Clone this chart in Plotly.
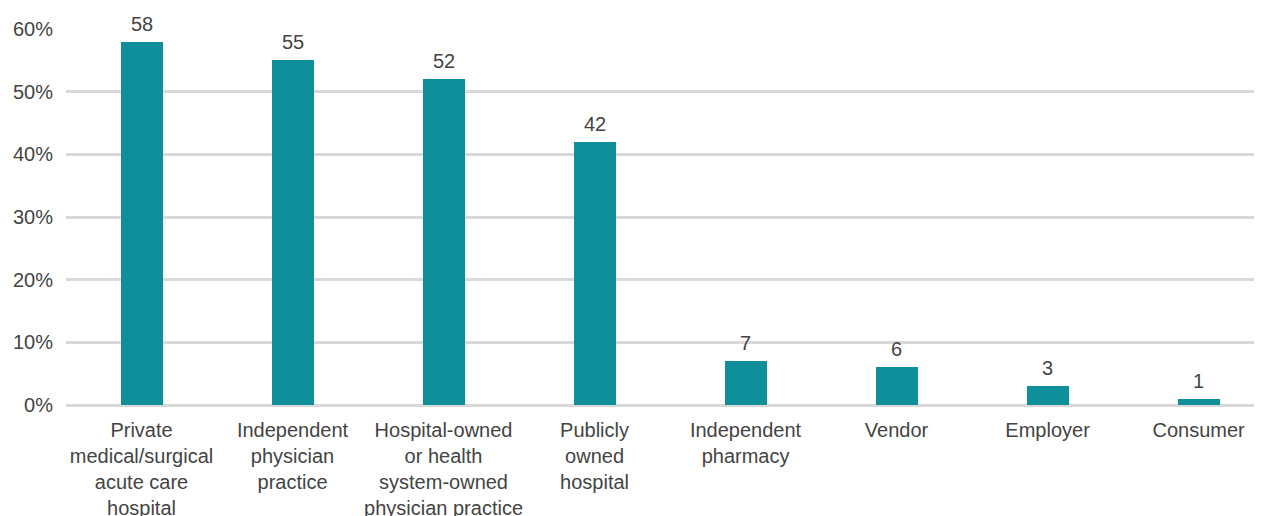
import plotly.graph_objects as go

categories = [
    "Private<br>medical/surgical<br>acute care<br>hospital",
    "Independent<br>physician<br>practice",
    "Hospital-owned<br>or health<br>system-owned<br>physician practice",
    "Publicly<br>owned<br>hospital",
    "Independent<br>pharmacy",
    "Vendor",
    "Employer",
    "Consumer",
]
values = [58, 55, 52, 42, 7, 6, 3, 1]
y_ticks = [0, 10, 20, 30, 40, 50, 60]
y_tick_labels = ["0%", "10%", "20%", "30%", "40%", "50%", "60%"]

font_family = "Liberation Sans, Arial, sans-serif"
text_color = "#444444"

xs = list(range(len(categories)))

fig = go.Figure(
    go.Bar(
        x=xs,
        y=values,
        width=0.278,
        marker=dict(color="#0E8F99", line=dict(width=0)),
        cliponaxis=False,
    )
)

for xi, v in zip(xs, values):
    fig.add_annotation(
        x=xi, y=v, text=str(v), showarrow=False,
        xanchor="center", yanchor="bottom", yshift=5,
        font=dict(family=font_family, size=20, color=text_color),
    )

# page body has an 8px default margin, so the figure is sized to fit the window
fig.update_layout(
    width=1254,
    height=508,
    margin=dict(l=58, r=0, t=21, b=111, autoexpand=False),
    plot_bgcolor="white",
    paper_bgcolor="white",
    showlegend=False,
    bargap=0,
    font=dict(family=font_family, size=20, color=text_color),
)
fig.update_xaxes(
    range=[-0.5, 7.42],
    tickmode="array",
    tickvals=xs,
    ticktext=categories,
    showgrid=False,
    zeroline=False,
    showline=False,
    ticks="",
    automargin=False,
    ticklabelstandoff=11,
    tickfont=dict(family=font_family, size=20, color=text_color),
)
fig.update_yaxes(
    range=[0, 60],
    tickmode="array",
    tickvals=y_ticks,
    ticktext=y_tick_labels,
    showgrid=True,
    gridcolor="#d9d9d9",
    gridwidth=2.5,
    zeroline=True,
    zerolinecolor="#d9d9d9",
    zerolinewidth=2.5,
    showline=False,
    ticks="",
    automargin=False,
    ticklabelstandoff=12,
    tickfont=dict(family=font_family, size=20, color=text_color),
)

fig.write_html("out.html")
